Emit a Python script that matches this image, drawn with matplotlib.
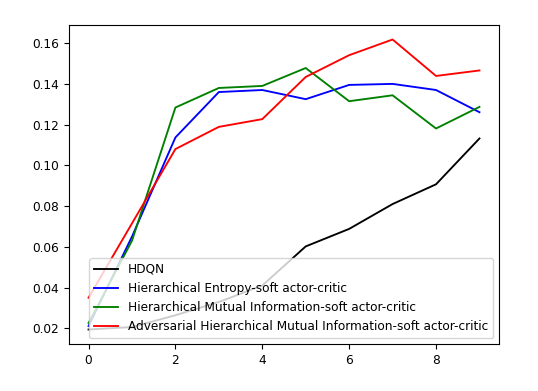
import matplotlib
matplotlib.use("Agg")
import matplotlib.pyplot as plt

# episode index on x axis
steps = list(range(10))

# values
hdqn = [0.0194, 0.0206, 0.0264, 0.0329, 0.041, 0.0602, 0.0688, 0.081, 0.0907, 0.1132]
he_sac = [0.0211, 0.065, 0.1137, 0.136, 0.137, 0.1325, 0.1395, 0.1400, 0.137, 0.1261]
hmi_sac = [0.0226, 0.063, 0.1284, 0.138, 0.139, 0.1478, 0.1315, 0.1344, 0.1181, 0.1287]
ahmi_sac = [0.035, 0.0715, 0.108, 0.1189, 0.1227, 0.1434, 0.1541, 0.1618, 0.1439, 0.1466]

labels = [
    "HDQN",
    "Hierarchical Entropy-soft actor-critic",
    "Hierarchical Mutual Information-soft actor-critic",
    "Adversarial Hierarchical Mutual Information-soft actor-critic",
]
colors = ["k", "b", "g", "r"]

plt.rcParams["font.size"] = 8.7

fig = plt.figure(figsize=(5.38, 3.91), dpi=100)
ax = fig.add_axes([69 / 538, 1 - 344 / 391, 430 / 538, 319 / 391])

for series, lab, c in zip([hdqn, he_sac, hmi_sac, ahmi_sac], labels, colors):
    ax.plot(steps, series, color=c, label=lab, linewidth=1.35)

ax.set_yticks([0.02, 0.04, 0.06, 0.08, 0.10, 0.12, 0.14, 0.16])
ax.set_xticks([0, 2, 4, 6, 8])
ax.legend(loc="lower right")

fig.savefig("out.png", dpi=100)
